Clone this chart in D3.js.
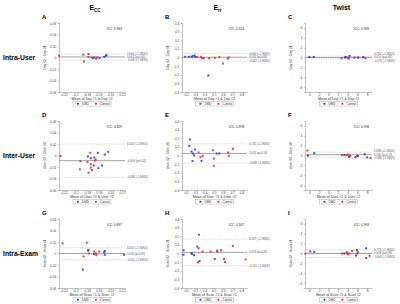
<!DOCTYPE html>
<html>
<head>
<meta charset="utf-8">
<script src="https://cdn.jsdelivr.net/npm/d3@7"></script>
<style>
  body { margin: 0; background: #fff; }
  svg { font-family: "Liberation Sans", Arial, sans-serif; }
</style>
</head>
<body>
<div id="chart"></div>
<script>
// ---- data ----
const rowLabels = ["Intra-User", "Inter-User", "Intra-Exam"];
const colTitles = [["E", "CC"], ["E", "rr"], ["Twist", ""]];
const panelLetters = ["A", "B", "C", "D", "E", "F", "G", "H", "I"];
const yAxisLabels = ["Day #2 - Day #1", "User #2 - User #1", "Scan #2 - Scan #1"];
const xAxisLabels = ["Mean of Day #1 & Day #2", "Mean of User #1 & User #2", "Mean of Scan #1 & Scan #2"];
const seriesNames = ["DMD", "Control"];

const eccTicksX = [-0.22, -0.2, -0.18, -0.16, -0.14, -0.12];
const eccTicksY = [-0.06, -0.04, -0.02, 0, 0.02, 0.04, 0.06];
const errTicksX = [0.2, 0.3, 0.4, 0.5, 0.6, 0.7, 0.8];
const errTicksY = [-0.4, -0.3, -0.2, -0.1, 0, 0.1, 0.2, 0.3, 0.4];
const twistTicksX = [-4, -2, 0, 2, 4, 6, 8];
const twistTicksY = [-6, -4, -2, 0, 2, 4, 6];

const iccValues = ["0.963", "0.914", "0.999", "0.829", "0.878", "0.958", "0.897", "0.907", "0.993"];
// [upper LoA, mean, lower LoA]
const loaValues = [
  [0.006, 0.001, -0.005], [0.046, 0.003, -0.042], [0.28, 0.01, -0.27],
  [0.020, -0.009, -0.038], [0.135, 0.024, -0.088], [0.688, 0.16, -0.38],
  [0.010, 0.000, -0.011], [0.167, 0.013, -0.141], [0.778, 0.006, -0.8]
];
const loaLabels = [
  ["0.006 (+1.96SD)", "0.001 (p=0.65)", "-0.005 (-1.96SD)"],
  ["0.046 (+1.96SD)", "0.003 (p=0.68)", "-0.042 (-1.96SD)"],
  ["0.280 (+1.96SD)", "0.010 (p=0.82)", "-0.270 (-1.96SD)"],
  ["0.020 (+1.96SD)", "-0.009 (p<0.01)", "-0.038 (-1.96SD)"],
  ["0.135 (+1.96SD)", "0.024 (p=0.14)", "-0.088 (-1.96SD)"],
  ["0.688 (+1.96SD)", "0.160 (p=0.13)", "-0.380 (-1.96SD)"],
  ["0.010 (+1.96SD)", "0.000 (p=0.95)", "-0.011 (-1.96SD)"],
  ["0.167 (+1.96SD)", "0.013 (p=0.45)", "-0.141 (-1.96SD)"],
  ["0.778 (+1.96SD)", "0.006 (p=0.93)", "-0.800 (-1.96SD)"]
];

const dmdA = [[-0.177, 0.006], [-0.169, -0.001], [-0.167, 0], [-0.150, 0.001], [-0.147, 0.003], [-0.146, 0.004], [-0.158, -0.001]];
const ctrlA = [[-0.228, 0.003], [-0.186, 0.005], [-0.185, -0.007], [-0.177, 0.001], [-0.172, 0], [-0.164, -0.002], [-0.162, 0]];
const dmdB = [[0.19, 0.008], [0.23, 0.008], [0.26, 0.008], [0.27, 0.015], [0.29, 0.023], [0.30, 0.008], [0.39, -0.008], [0.44, -0.21]];
const ctrlB = [[0.32, 0.004], [0.36, 0.008], [0.37, -0.008], [0.45, -0.008], [0.51, -0.004], [0.56, 0.004], [0.60, -0.07], [0.65, -0.012], [0.66, 0]];
const dmdC = [[-3.9, 0.1], [-3.0, 0.1], [3.4, 0], [3.6, 0.1], [4.4, 0.3], [5.4, 0], [6.1, 0], [7.2, 0.1]];
const ctrlC = [[2.7, -0.1], [4.0, 0], [4.1, -0.1], [4.2, -0.2], [6.2, 0], [7.6, -0.1]];
const dmdD = [[-0.178, -0.0017], [-0.173, -0.0046], [-0.167, -0.0035], [-0.161, 0.0046], [-0.168, -0.0174], [-0.160, -0.022], [-0.154, -0.0174], [-0.149, 0.0017], [-0.143, 0.0064]];
const ctrlD = [[-0.2255, -0.001], [-0.191, -0.0099], [-0.192, -0.024], [-0.174, 0.0046], [-0.179, -0.011], [-0.173, -0.015], [-0.177, -0.030], [-0.173, -0.021], [-0.171, -0.0255], [-0.1645, -0.007], [-0.166, -0.0087]];
const dmdE = [[0.241, 0.185], [0.234, 0.112], [0.259, 0.046], [0.276, 0.023], [0.286, 0], [0.297, 0.069], [0.269, -0.065], [0.366, -0.062], [0.531, 0.023], [0.559, 0.023]];
const ctrlE = [[0.334, 0.035], [0.355, -0.019], [0.379, -0.004], [0.49, 0.062], [0.50, -0.035], [0.50, -0.119], [0.655, 0.035], [0.662, -0.004], [0.707, 0.077]];
const dmdF = [[-4.2, 0], [-2.9, 0.47], [3.3, 0.13], [4.3, -0.27], [5.6, -0.33], [6.1, -0.07], [7.5, 0.27], [8.0, -0.4]];
const ctrlF = [[-4.3, 1.0], [2.8, 0.07], [3.8, 0.07], [4.0, 0.2], [4.3, 0], [4.5, -0.07], [5.9, -0.07], [8.7, -0.53]];
const dmdG = [[-0.187, -0.028], [-0.178, 0.0051], [-0.177, 0.0063], [-0.1675, -0.0011], [-0.150, 0.0023], [-0.149, 0.0046], [-0.149, -0.0023], [-0.1155, -0.0023]];
const ctrlG = [[-0.2217, 0.0177], [-0.180, 0.0189], [-0.1855, -0.0051], [-0.1765, 0], [-0.167, 0.0034], [-0.1645, 0], [-0.1635, -0.0029], [-0.1586, 0.0034]];
const dmdH = [[0.172, 0.038], [0.172, -0.015], [0.259, 0.004], [0.262, -0.004], [0.286, -0.019], [0.321, 0.08], [0.338, 0.218], [0.345, -0.088], [0.51, -0.065]];
const ctrlH = [[0.334, 0.061], [0.328, -0.103], [0.379, 0.023], [0.466, 0.023], [0.534, 0.034], [0.538, 0.023], [0.579, 0.038], [0.61, -0.065], [0.621, -0.099], [0.707, 0.088], [0.845, -0.069]];
const dmdI = [[-3.7, 0.4], [-2.9, 0.33], [3.3, 0], [5.9, 0.67], [5.7, -0.4], [7.8, 1.07], [7.8, -0.93]];
const ctrlI = [[-4.7, 0], [2.8, 0], [3.8, 0.27], [3.9, 0], [4.1, -0.13], [4.3, 0], [4.9, 0.53], [6.0, 0], [6.1, 0.27], [8.5, -0.47]];

const dmdSets = [dmdA, dmdB, dmdC, dmdD, dmdE, dmdF, dmdG, dmdH, dmdI];
const ctrlSets = [ctrlA, ctrlB, ctrlC, ctrlD, ctrlE, ctrlF, ctrlG, ctrlH, ctrlI];

// ---- layout ----
const dimensions = { width: 400, height: 304 };
const colX = [[59, 125], [182, 247], [305, 372]];
const rowY = [[23, 92], [121, 190], [219, 288]];
const colDomainsX = [[-0.228, -0.114], [0.155, 0.86], [-4.8, 9]];
const colDomainsY = [[-0.06, 0.06], [-0.4, 0.4], [-7, 7]];
const colTicksX = [eccTicksX, errTicksX, twistTicksX];
const colTicksY = [eccTicksY, errTicksY, twistTicksY];
const colors = { DMD: "#2f2fd8", Control: "#e3262b" };

const svg = d3.select("#chart")
  .append("svg")
  .attr("width", dimensions.width)
  .attr("height", dimensions.height);

// column titles
colTitles.forEach((t, c) => {
  const txt = svg.append("text")
    .attr("x", (colX[c][0] + colX[c][1]) / 2 + 3)
    .attr("y", 10)
    .attr("text-anchor", "middle")
    .attr("font-size", 7)
    .attr("font-weight", "bold")
    .text(t[0]);
  if (t[1]) {
    txt.append("tspan").attr("dy", 1.8).attr("font-size", 4.5).text(t[1]);
  }
});

// row labels
rowLabels.forEach((r, i) => {
  svg.append("text")
    .attr("x", 3)
    .attr("y", (rowY[i][0] + rowY[i][1]) / 2 + 2.5)
    .attr("font-size", 6.8)
    .attr("font-weight", "bold")
    .text(r);
});

function drawPanel(r, c) {
  const idx = r * 3 + c;
  const [x0, x1] = colX[c];
  const [y0, y1] = rowY[r];
  const g = svg.append("g");

  const x = d3.scaleLinear().domain(colDomainsX[c]).range([x0, x1]);
  const y = d3.scaleLinear().domain(colDomainsY[c]).range([y1, y0]);

  // panel letter
  g.append("text")
    .attr("x", x0 - 17)
    .attr("y", y0 - 4)
    .attr("font-size", 6)
    .attr("font-weight", "bold")
    .text(panelLetters[idx]);

  // axes
  const yAxis = g.append("g")
    .attr("transform", `translate(${x0},0)`)
    .call(d3.axisLeft(y).tickValues(colTicksY[c]).tickSize(1.2).tickPadding(1.5).tickFormat(d => String(d)));
  const xAxis = g.append("g")
    .attr("transform", `translate(0,${y1})`)
    .call(d3.axisBottom(x).tickValues(colTicksX[c]).tickSize(1.2).tickPadding(1).tickFormat(d => String(d)));
  [xAxis, yAxis].forEach(a => {
    a.attr("font-size", 3.2).attr("font-family", "Liberation Sans, Arial, sans-serif");
    a.select(".domain").attr("stroke", "#888").attr("stroke-width", 0.5);
    a.selectAll(".tick line").attr("stroke", "#888").attr("stroke-width", 0.5);
    a.selectAll(".tick text").attr("fill", "#444");
  });

  // axis titles
  g.append("text")
    .attr("transform", `translate(${x0 - 13},${(y0 + y1) / 2}) rotate(-90)`)
    .attr("text-anchor", "middle")
    .attr("font-size", 3.4)
    .attr("fill", "#333")
    .text(yAxisLabels[r]);
  g.append("text")
    .attr("x", (x0 + x1) / 2)
    .attr("y", y1 + 8)
    .attr("text-anchor", "middle")
    .attr("font-size", 3.6)
    .attr("fill", "#333")
    .text(xAxisLabels[r]);

  // limits of agreement
  const loa = loaValues[idx];
  const labelY = loa.map(v => y(v));
  // spread labels that would collide
  const gap = 3.4;
  if (labelY[1] - labelY[0] < gap) labelY[0] = labelY[1] - gap;
  if (labelY[2] - labelY[1] < gap) labelY[2] = labelY[1] + gap;
  loa.forEach((v, k) => {
    g.append("line")
      .attr("x1", x0).attr("x2", x1)
      .attr("y1", y(v)).attr("y2", y(v))
      .attr("stroke", k === 1 ? "#8a8a8a" : "#c4c4c4")
      .attr("stroke-width", k === 1 ? 0.8 : 0.6)
      .attr("stroke-dasharray", k === 1 ? null : "1.5,0.8");
    g.append("text")
      .attr("x", x1 + 2)
      .attr("y", labelY[k] + 1)
      .attr("font-size", 2.8)
      .attr("fill", "#555")
      .text(loaLabels[idx][k]);
  });

  // ICC
  g.append("text")
    .attr("x", x1 - 3)
    .attr("y", y0 + 7)
    .attr("text-anchor", "end")
    .attr("font-size", 3.2)
    .attr("fill", "#222")
    .text("ICC: " + iccValues[idx]);

  // points
  const series = [
    { name: "DMD", pts: dmdSets[idx] },
    { name: "Control", pts: ctrlSets[idx] }
  ];
  series.forEach(s => {
    g.selectAll(null)
      .data(s.pts)
      .enter()
      .append("rect")
      .attr("x", d => x(d[0]) - 1)
      .attr("y", d => y(d[1]) - 1)
      .attr("width", 2)
      .attr("height", 2)
      .attr("fill", colors[s.name])
      .attr("fill-opacity", 0.85);
  });

  // legend
  const lw = 38, lh = 4.5;
  const lx = (x0 + x1) / 2 - lw / 2;
  const ly = y1 + 9.5;
  const legend = g.append("g").attr("transform", `translate(${lx},${ly})`);
  legend.append("rect")
    .attr("width", lw).attr("height", lh)
    .attr("fill", "#fff").attr("stroke", "#999").attr("stroke-width", 0.4);
  seriesNames.forEach((n, i) => {
    const gx = 4 + i * 18;
    legend.append("rect")
      .attr("x", gx).attr("y", lh / 2 - 0.9)
      .attr("width", 1.8).attr("height", 1.8)
      .attr("fill", colors[n]);
    legend.append("text")
      .attr("x", gx + 5).attr("y", lh / 2 + 1.1)
      .attr("font-size", 3)
      .attr("fill", "#333")
      .text(n);
  });
}

for (let r = 0; r < 3; r++) {
  for (let c = 0; c < 3; c++) {
    drawPanel(r, c);
  }
}
</script>
</body>
</html>
